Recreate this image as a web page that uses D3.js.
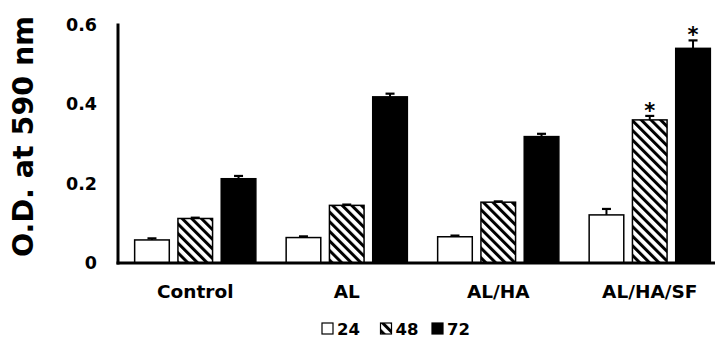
<!DOCTYPE html>
<html>
<head>
<meta charset="utf-8">
<script src="https://cdn.jsdelivr.net/npm/d3@7"></script>
<style>
  body { margin: 0; background: #fff; }
  text { font-family: "DejaVu Sans", sans-serif; font-weight: bold; fill: #000; }
</style>
</head>
<body>
<div id="graph"></div>
<script>
const groups = ["Control", "AL", "AL/HA", "AL/HA/SF"];
const series = ["24", "48", "72"];
const values24 = [0.058, 0.064, 0.066, 0.121];
const values48 = [0.112, 0.145, 0.153, 0.360];
const values72 = [0.212, 0.418, 0.318, 0.540];
const err24 = [0.004, 0.003, 0.003, 0.015];
const err48 = [0.002, 0.002, 0.002, 0.010];
const err72 = [0.007, 0.008, 0.007, 0.020];
const yTicks = [0, 0.2, 0.4, 0.6];
const starred = [[3, "48"], [3, "72"]];

const width = 715, height = 351;
const baseY = 263, topY = 24.5, axisX = 118;
const font = "'DejaVu Sans', sans-serif";

const vals = {"24": values24, "48": values48, "72": values72};
const errs = {"24": err24, "48": err48, "72": err72};
const data = [];
groups.forEach((g, i) => series.forEach(s => data.push({group: g, gi: i, s: s, v: vals[s][i], e: errs[s][i]})));

const svg = d3.select("#graph").append("svg").attr("width", width).attr("height", height);

const defs = svg.append("defs");
const pat = defs.append("pattern").attr("id", "hatch")
  .attr("patternUnits", "userSpaceOnUse").attr("width", 6.8).attr("height", 6.8)
  .attr("patternTransform", "rotate(-45)");
pat.append("rect").attr("width", 6.8).attr("height", 6.8).attr("fill", "#fff");
pat.append("rect").attr("x", 0).attr("y", 0).attr("width", 3).attr("height", 6.8).attr("fill", "#000");

const fills = {"24": "#fff", "48": "url(#hatch)", "72": "#000"};

const x0 = d3.scaleBand().domain(groups).range([119.5, 725.5]).paddingInner(0.2).paddingOuter(0.1);
const x1 = d3.scaleBand().domain(series).range([0, x0.bandwidth()]).paddingInner(0.2);
const y = d3.scaleLinear().domain([0, 0.6]).range([baseY, topY]);

// bars
svg.selectAll("rect.bar").data(data).enter().append("rect")
  .attr("class", "bar")
  .attr("x", d => x0(d.group) + x1(d.s))
  .attr("y", d => y(d.v))
  .attr("width", x1.bandwidth())
  .attr("height", d => baseY - y(d.v))
  .attr("fill", d => fills[d.s])
  .attr("stroke", "#000").attr("stroke-width", 1.5);

// error bars
const eb = svg.selectAll("g.err").data(data).enter().append("g").attr("class", "err");
eb.append("line")
  .attr("x1", d => x0(d.group) + x1(d.s) + x1.bandwidth() / 2)
  .attr("x2", d => x0(d.group) + x1(d.s) + x1.bandwidth() / 2)
  .attr("y1", d => y(d.v)).attr("y2", d => y(d.v + d.e))
  .attr("stroke", "#000").attr("stroke-width", 2);
eb.append("line")
  .attr("x1", d => x0(d.group) + x1(d.s) + x1.bandwidth() / 2 - 4.5)
  .attr("x2", d => x0(d.group) + x1(d.s) + x1.bandwidth() / 2 + 4.5)
  .attr("y1", d => y(d.v + d.e)).attr("y2", d => y(d.v + d.e))
  .attr("stroke", "#000").attr("stroke-width", 2.2);

// significance stars
svg.selectAll("text.star").data(starred).enter().append("text")
  .attr("class", "star")
  .attr("x", d => x0(groups[d[0]]) + x1(d[1]) + x1.bandwidth() / 2)
  .attr("y", d => y(vals[d[1]][d[0]] + errs[d[1]][d[0]]) + 2)
  .attr("text-anchor", "middle")
  .style("font-size", "21px")
  .text("*");

// axes
const yAxis = d3.axisLeft(y).tickValues(yTicks).tickSize(0).tickPadding(21)
  .tickFormat(d => d === 0 ? "0" : d3.format(".1f")(d));
const gy = svg.append("g").attr("transform", "translate(" + axisX + ",0)").call(yAxis);
gy.select(".domain").remove();
gy.selectAll("text").style("font-size", "17.5px").style("font-family", font).style("font-weight", "bold");

svg.append("line").attr("x1", axisX).attr("x2", axisX).attr("y1", topY - 1).attr("y2", baseY + 1.5)
  .attr("stroke", "#000").attr("stroke-width", 3);
svg.append("line").attr("x1", axisX - 1.5).attr("x2", width).attr("y1", baseY).attr("y2", baseY)
  .attr("stroke", "#000").attr("stroke-width", 3);

const xAxis = d3.axisBottom(x0).tickSize(0).tickPadding(22);
const gx = svg.append("g").attr("transform", "translate(0," + baseY + ")").call(xAxis);
gx.select(".domain").remove();
gx.selectAll("text").style("font-size", "18.5px").style("font-family", font).style("font-weight", "bold");

// y title
svg.append("text")
  .attr("transform", "translate(33,136.5) rotate(-90)")
  .attr("text-anchor", "middle")
  .style("font-size", "28.5px")
  .text("O.D. at 590 nm");

// legend
const legX = [322, 380.5, 432];
const leg = svg.selectAll("g.leg").data(series).enter().append("g").attr("class", "leg")
  .attr("transform", (d, i) => "translate(" + legX[i] + ",323)");
leg.append("rect").attr("width", 11).attr("height", 11)
  .attr("fill", d => fills[d]).attr("stroke", "#000").attr("stroke-width", 1.2);
leg.append("text").attr("x", 15).attr("y", 12).style("font-size", "16.5px").text(d => d);
</script>
</body>
</html>
